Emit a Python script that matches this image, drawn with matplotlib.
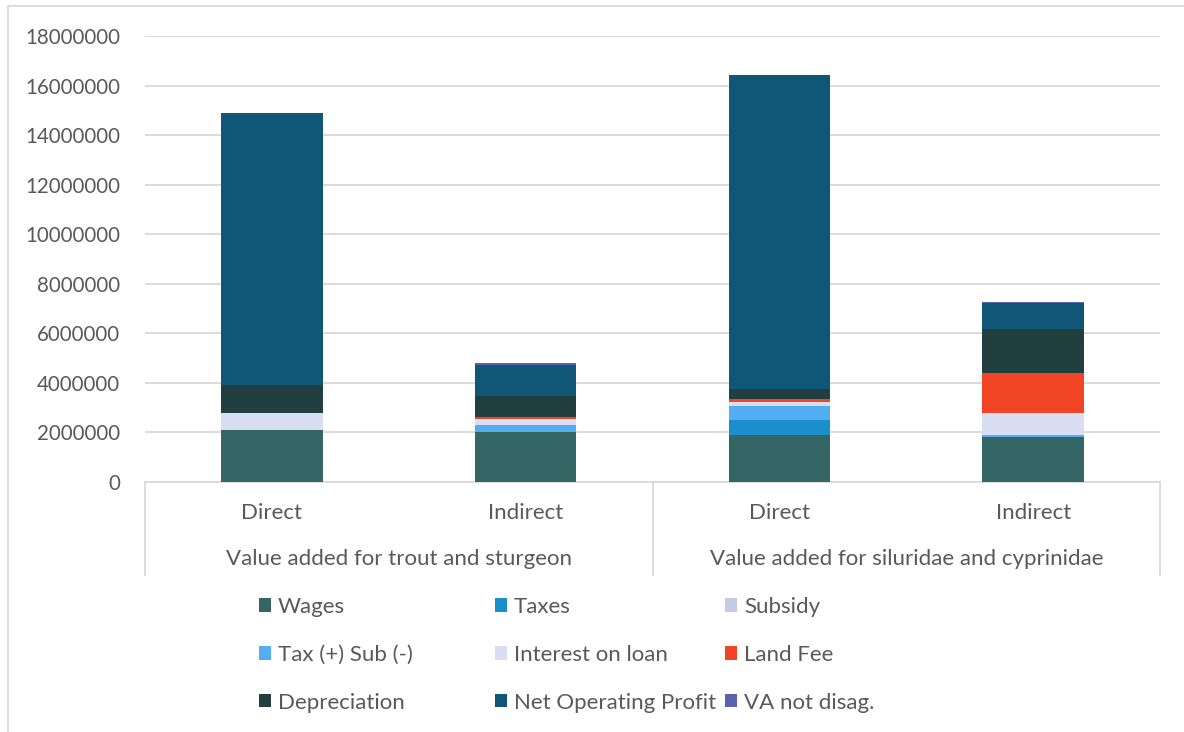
import matplotlib.pyplot as plt
from matplotlib.patches import Rectangle, Patch
from matplotlib.transforms import blended_transform_factory
import numpy as np

plt.rcParams['font.family'] = ['Lato', 'DejaVu Sans']

# bars: trout/sturgeon direct, indirect, siluridae/cyprinidae direct, indirect
bar_labels = ["Direct", "Indirect", "Direct", "Indirect"]
group_labels = ["Value added for trout and sturgeon",
                "Value added for siluridae and cyprinidae"]

series_names = ["Wages", "Taxes", "Subsidy", "Tax (+) Sub (-)", "Interest on loan",
                "Land Fee", "Depreciation", "Net Operating Profit", "VA not disag."]

wages = [2100000, 2030000, 1910000, 1800000]
taxes = [0, 0, 590000, 0]
subsidy = [0, 0, 0, 0]
tax_sub = [0, 280000, 580000, 110000]
interest = [690000, 220000, 160000, 860000]
land_fee = [0, 90000, 110000, 1630000]
depreciation = [1120000, 840000, 410000, 1770000]
net_op_profit = [11000000, 1260000, 12650000, 1040000]
va_not_disag = [0, 80000, 0, 50000]

colors = ["#336664", "#1a8fcc", "#c6cbe4", "#52aef0", "#dadef3",
          "#f04425", "#213f3f", "#0f5677", "#5a63b0"]

text_color = "#595959"
grid_color = "#d9d9d9"
fs = 16

fig = plt.figure(figsize=(11.84, 7.32), dpi=100)
ax = fig.add_axes([145 / 1184, 1 - 482 / 732, (1160 - 145) / 1184, (482 - 36) / 732])

x = np.arange(len(bar_labels))
bottom = np.zeros(len(bar_labels))
all_series = [wages, taxes, subsidy, tax_sub, interest, land_fee,
              depreciation, net_op_profit, va_not_disag]
for vals, col, name in zip(all_series, colors, series_names):
    ax.bar(x, vals, 0.4, bottom=bottom, color=col, label=name, zorder=3)
    bottom += np.array(vals)

ax.set_xlim(-0.5, 3.5)
ax.set_ylim(0, 18000000)
ax.set_yticks(np.arange(0, 18000001, 2000000))
ax.set_yticklabels([str(v) for v in range(0, 18000001, 2000000)])
ax.tick_params(axis='y', length=0, pad=18, labelsize=14.8, labelcolor=text_color)
ax.set_xticks([])
ax.grid(axis='y', color=grid_color, linewidth=1.3, zorder=0)
for s in ["top", "right", "left"]:
    ax.spines[s].set_visible(False)
ax.spines["bottom"].set_color(grid_color)
ax.spines["bottom"].set_linewidth(1.3)

# two-level category axis
trans = blended_transform_factory(ax.transData, ax.transAxes)
for xi, lab in zip(x, bar_labels):
    ax.text(xi, -0.07, lab, transform=trans, ha='center', va='center',
            fontsize=fs, color=text_color)
for gi, lab in enumerate(group_labels):
    ax.text(gi * 2 + 0.5, -0.172, lab, transform=trans, ha='center', va='center',
            fontsize=fs, color=text_color)
for sx in [-0.5, 1.5, 3.5]:
    ax.plot([sx, sx], [0, -0.208], transform=trans, color=grid_color,
            linewidth=1.3, clip_on=False)

# legend in three fixed-width columns
handles = [Patch(facecolor=c) for c in colors]
col_x = [259 / 1184, 495 / 1184, 725 / 1184]
for ci in range(3):
    idx = [ci, ci + 3, ci + 6]
    fig.legend([handles[i] for i in idx], [series_names[i] for i in idx],
               loc='upper left', bbox_to_anchor=(col_x[ci], 1 - 597 / 732),
               frameon=False, fontsize=fs, handlelength=0.55, handleheight=0.55,
               handletextpad=0.3, labelspacing=1.25, labelcolor=text_color,
               borderaxespad=0, borderpad=0)

# outer chart frame
fig.add_artist(Rectangle((8 / 1184, -0.1), 1.2, 1.1 - 6 / 732, transform=fig.transFigure,
                         fill=False, edgecolor=grid_color, linewidth=1.3, clip_on=False))

fig.savefig("out.png", dpi=100)
